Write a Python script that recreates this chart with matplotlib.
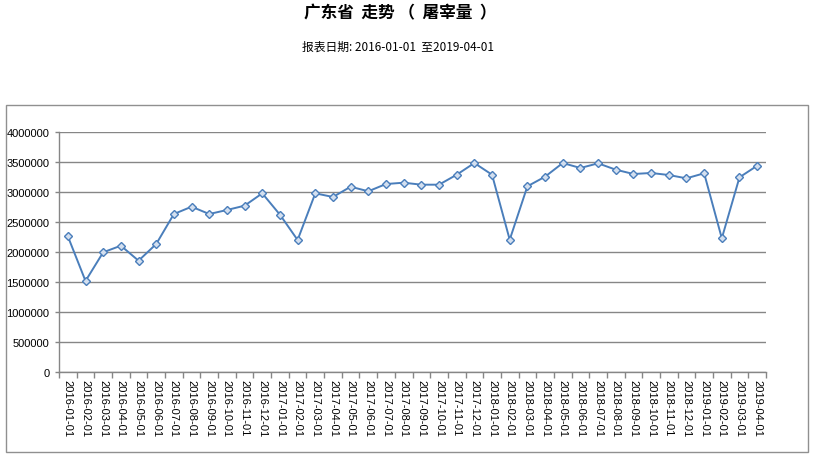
import matplotlib
matplotlib.use("Agg")
import matplotlib.pyplot as plt
from matplotlib.patches import Rectangle
import numpy as np

plt.rcParams['font.family'] = ['Noto Sans CJK SC', 'DejaVu Sans']

title = "广东省  走势 （  屠宰量  ）"
subtitle = "报表日期: 2016-01-01  至2019-04-01"

dates = [f"{y}-{m:02d}-01" for y, m in
         [(2016, i) for i in range(1, 13)] + [(2017, i) for i in range(1, 13)] +
         [(2018, i) for i in range(1, 13)] + [(2019, i) for i in range(1, 5)]]

values = [2262000, 1517000, 1995000, 2105000, 1855000, 2133000, 2633000, 2755000,
          2633000, 2700000, 2772000, 2978000, 2622000, 2200000, 2978000, 2917000,
          3088000, 3012000, 3133000, 3155000, 3122000, 3122000, 3288000, 3483000,
          3288000, 2205000, 3095000, 3255000, 3483000, 3400000, 3478000, 3372000,
          3300000, 3317000, 3283000, 3228000, 3312000, 2228000, 3245000, 3438000]

yticks = [0, 500000, 1000000, 1500000, 2000000, 2500000, 3000000, 3500000, 4000000]

W, H = 813, 460
fig = plt.figure(figsize=(W / 100, H / 100), dpi=100)

# outer chart frame
fig.patches.append(Rectangle((5.5 / W, (H - 453) / H), (808 - 5.5) / W, (453 - 105.5) / H,
                             transform=fig.transFigure, fill=False,
                             edgecolor='#909090', linewidth=1.0))

fig.text(400 / W, 1 - 13 / H, title, ha='center', va='center', fontsize=12,
         fontweight='bold', color='black')
fig.text(398 / W, 1 - 47 / H, subtitle, ha='center', va='center', fontsize=8.5,
         color='black')

ax = fig.add_axes([59 / W, (H - 373) / H, (766 - 59) / W, (373 - 133) / H])
x = np.arange(len(dates))
ax.plot(x, values, color='#4A7EBB', linewidth=1.4, marker='D', markersize=3.6,
        markerfacecolor='#D3DFEF', markeredgecolor='#4A7EBB', markeredgewidth=1.0,
        zorder=3)

ax.set_xlim(-0.5, len(dates) - 0.5)
ax.set_ylim(0, 4000000)
ax.set_yticks(yticks)
ax.set_yticklabels([str(v) for v in yticks], fontsize=8, family=['Liberation Sans'])
ax.yaxis.grid(True, color='#868686', linewidth=1.0)
ax.set_axisbelow(True)

ax.set_xticks(x)
ax.set_xticklabels(dates, rotation=270, fontsize=8, family=['Liberation Sans'],
                   va='top', ha='center')
ax.set_xticks(np.arange(-0.5, len(dates), 1.0), minor=True)
ax.tick_params(axis='x', which='major', length=0, pad=5)
ax.tick_params(axis='x', which='minor', length=4, color='#868686', width=1)
ax.tick_params(axis='y', length=3, color='#868686', width=1, pad=4)

for s in ['top', 'right']:
    ax.spines[s].set_visible(False)
for s in ['left', 'bottom']:
    ax.spines[s].set_color('#868686')
    ax.spines[s].set_linewidth(1.0)

fig.savefig('out.png', dpi=100)
